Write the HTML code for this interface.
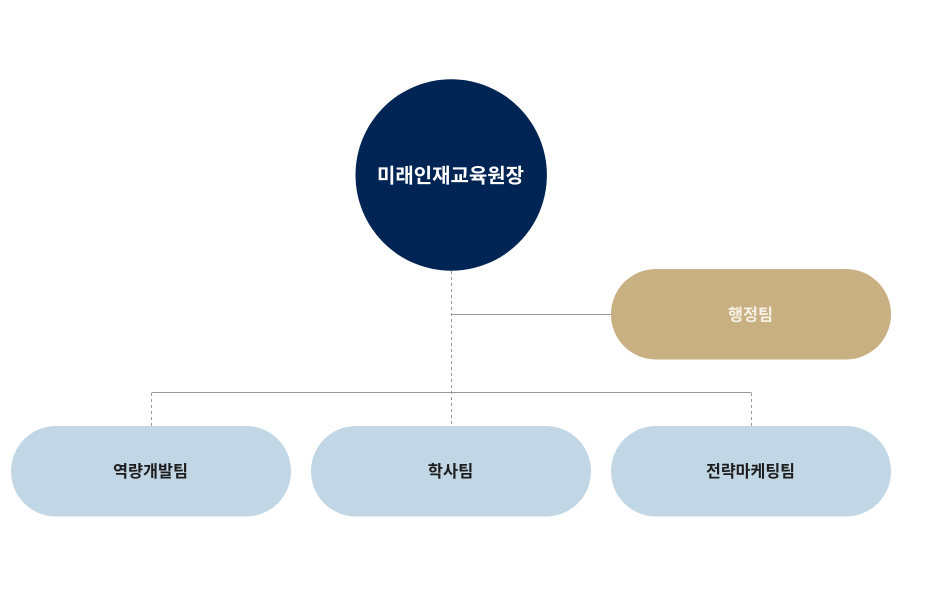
<!DOCTYPE html>
<html>
<head>
<meta charset="utf-8">
<style>
html,body{margin:0;padding:0;background:#fff;}
body{width:932px;height:596px;overflow:hidden;}
svg{display:block;}
text{font-family:"Liberation Sans","Noto Sans CJK KR","NanumGothic",sans-serif;}
</style>
</head>
<body>
<svg width="932" height="596" viewBox="0 0 932 596" xmlns="http://www.w3.org/2000/svg">
  <!-- connectors -->
  <line x1="451.5" y1="271" x2="451.5" y2="426" stroke="#9a9a9a" stroke-width="1" stroke-dasharray="3,3"/>
  <line x1="451.5" y1="314.5" x2="612" y2="314.5" stroke="#9a9a9a" stroke-width="1"/>
  <line x1="151.5" y1="392.5" x2="751.5" y2="392.5" stroke="#9a9a9a" stroke-width="1"/>
  <line x1="151.5" y1="393" x2="151.5" y2="426" stroke="#9a9a9a" stroke-width="1" stroke-dasharray="3,3"/>
  <line x1="751.5" y1="393" x2="751.5" y2="426" stroke="#9a9a9a" stroke-width="1" stroke-dasharray="3,3"/>

  <!-- top circle -->
  <circle cx="451.2" cy="175" r="95.7" fill="#002554"/>
  <text x="450.5" y="182.5" text-anchor="middle" font-size="20" font-weight="700" fill="#ffffff" textLength="147" lengthAdjust="spacingAndGlyphs">미래인재교육원장</text>

  <!-- 행정팀 -->
  <rect x="611" y="269" width="280" height="90.5" rx="45" ry="45" fill="#c9b083"/>
  <text x="750.5" y="320.5" text-anchor="middle" font-size="16.5" font-weight="700" fill="#f6f1e6" textLength="45" lengthAdjust="spacingAndGlyphs">행정팀</text>

  <!-- bottom pills -->
  <rect x="11" y="426" width="280" height="90.5" rx="45" ry="45" fill="#c2d7e5"/>
  <text x="150.5" y="477" text-anchor="middle" font-size="16.5" font-weight="700" fill="#1e1e1e" textLength="75" lengthAdjust="spacingAndGlyphs">역량개발팀</text>

  <rect x="311" y="426" width="280" height="90.5" rx="45" ry="45" fill="#c2d7e5"/>
  <text x="450.5" y="477" text-anchor="middle" font-size="16.5" font-weight="700" fill="#1e1e1e" textLength="45.5" lengthAdjust="spacingAndGlyphs">학사팀</text>

  <rect x="611" y="426" width="280" height="90.5" rx="45" ry="45" fill="#c2d7e5"/>
  <text x="750.5" y="477" text-anchor="middle" font-size="16.5" font-weight="700" fill="#1e1e1e" textLength="89" lengthAdjust="spacingAndGlyphs">전략마케팅팀</text>
</svg>
</body>
</html>
